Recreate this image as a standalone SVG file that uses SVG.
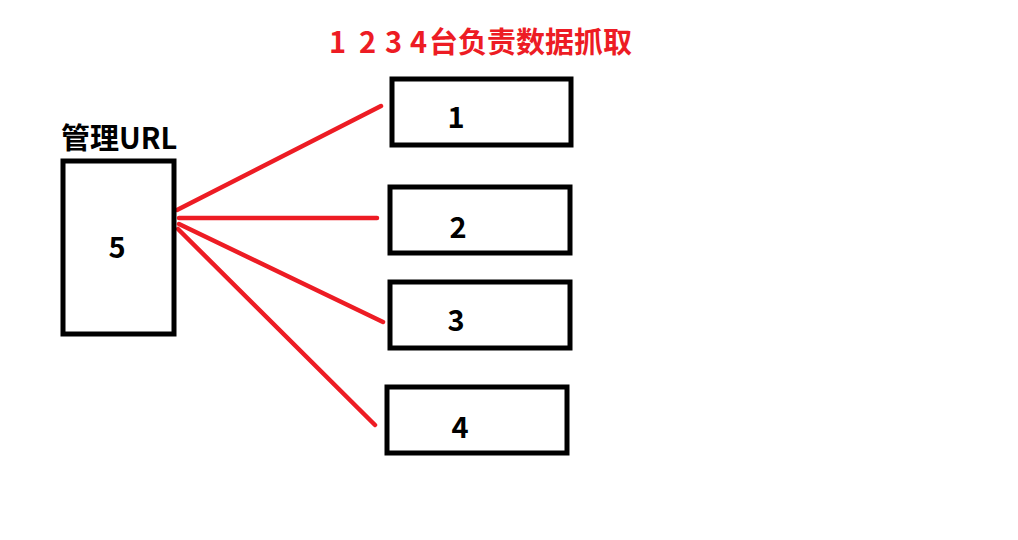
<svg xmlns="http://www.w3.org/2000/svg" width="1018" height="540" viewBox="0 0 1018 540">
<style>
.box{fill:#fff;stroke:#000;stroke-width:5}
.lbl{font-family:"Noto Sans CJK SC","Liberation Sans",sans-serif;font-weight:bold;font-size:29px;fill:#000;text-anchor:middle}
.title{font-family:"Noto Sans CJK SC","Liberation Sans",sans-serif;font-weight:bold;font-size:29px;fill:#ED1C24}
.head{font-family:"Noto Sans CJK SC","Liberation Sans",sans-serif;font-weight:bold;font-size:29px;fill:#000}
.conn line{stroke:#ED1C24;stroke-width:4.5;stroke-linecap:round}
</style>
<rect width="1018" height="540" fill="#fff"/>
<text class="title" y="53" xml:space="preserve"><tspan x="329">1 </tspan><tspan x="359">2 </tspan><tspan x="385">3 </tspan><tspan x="410">4</tspan><tspan x="429">台负责数据抓取</tspan></text>
<g id="connectors" class="conn">
<line x1="177" y1="210" x2="381" y2="106"/>
<line x1="179" y1="218" x2="377" y2="218"/>
<line x1="179" y1="224" x2="383" y2="322"/>
<line x1="178" y1="229" x2="375" y2="425"/>
</g>
<g id="node5">
<text class="head" x="61" y="149">管理URL</text>
<rect class="box" x="63" y="161" width="111" height="173"/>
<text class="lbl" x="117" y="258">5</text>
</g>
<g id="node1">
<rect class="box" x="392" y="79" width="179" height="66"/>
<text class="lbl" x="456" y="128">1</text>
</g>
<g id="node2">
<rect class="box" x="390" y="187" width="180" height="66"/>
<text class="lbl" x="458" y="238">2</text>
</g>
<g id="node3">
<rect class="box" x="390" y="282" width="180" height="66"/>
<text class="lbl" x="456" y="331">3</text>
</g>
<g id="node4">
<rect class="box" x="387" y="387" width="180" height="66"/>
<text class="lbl" x="460" y="438">4</text>
</g>
</svg>
